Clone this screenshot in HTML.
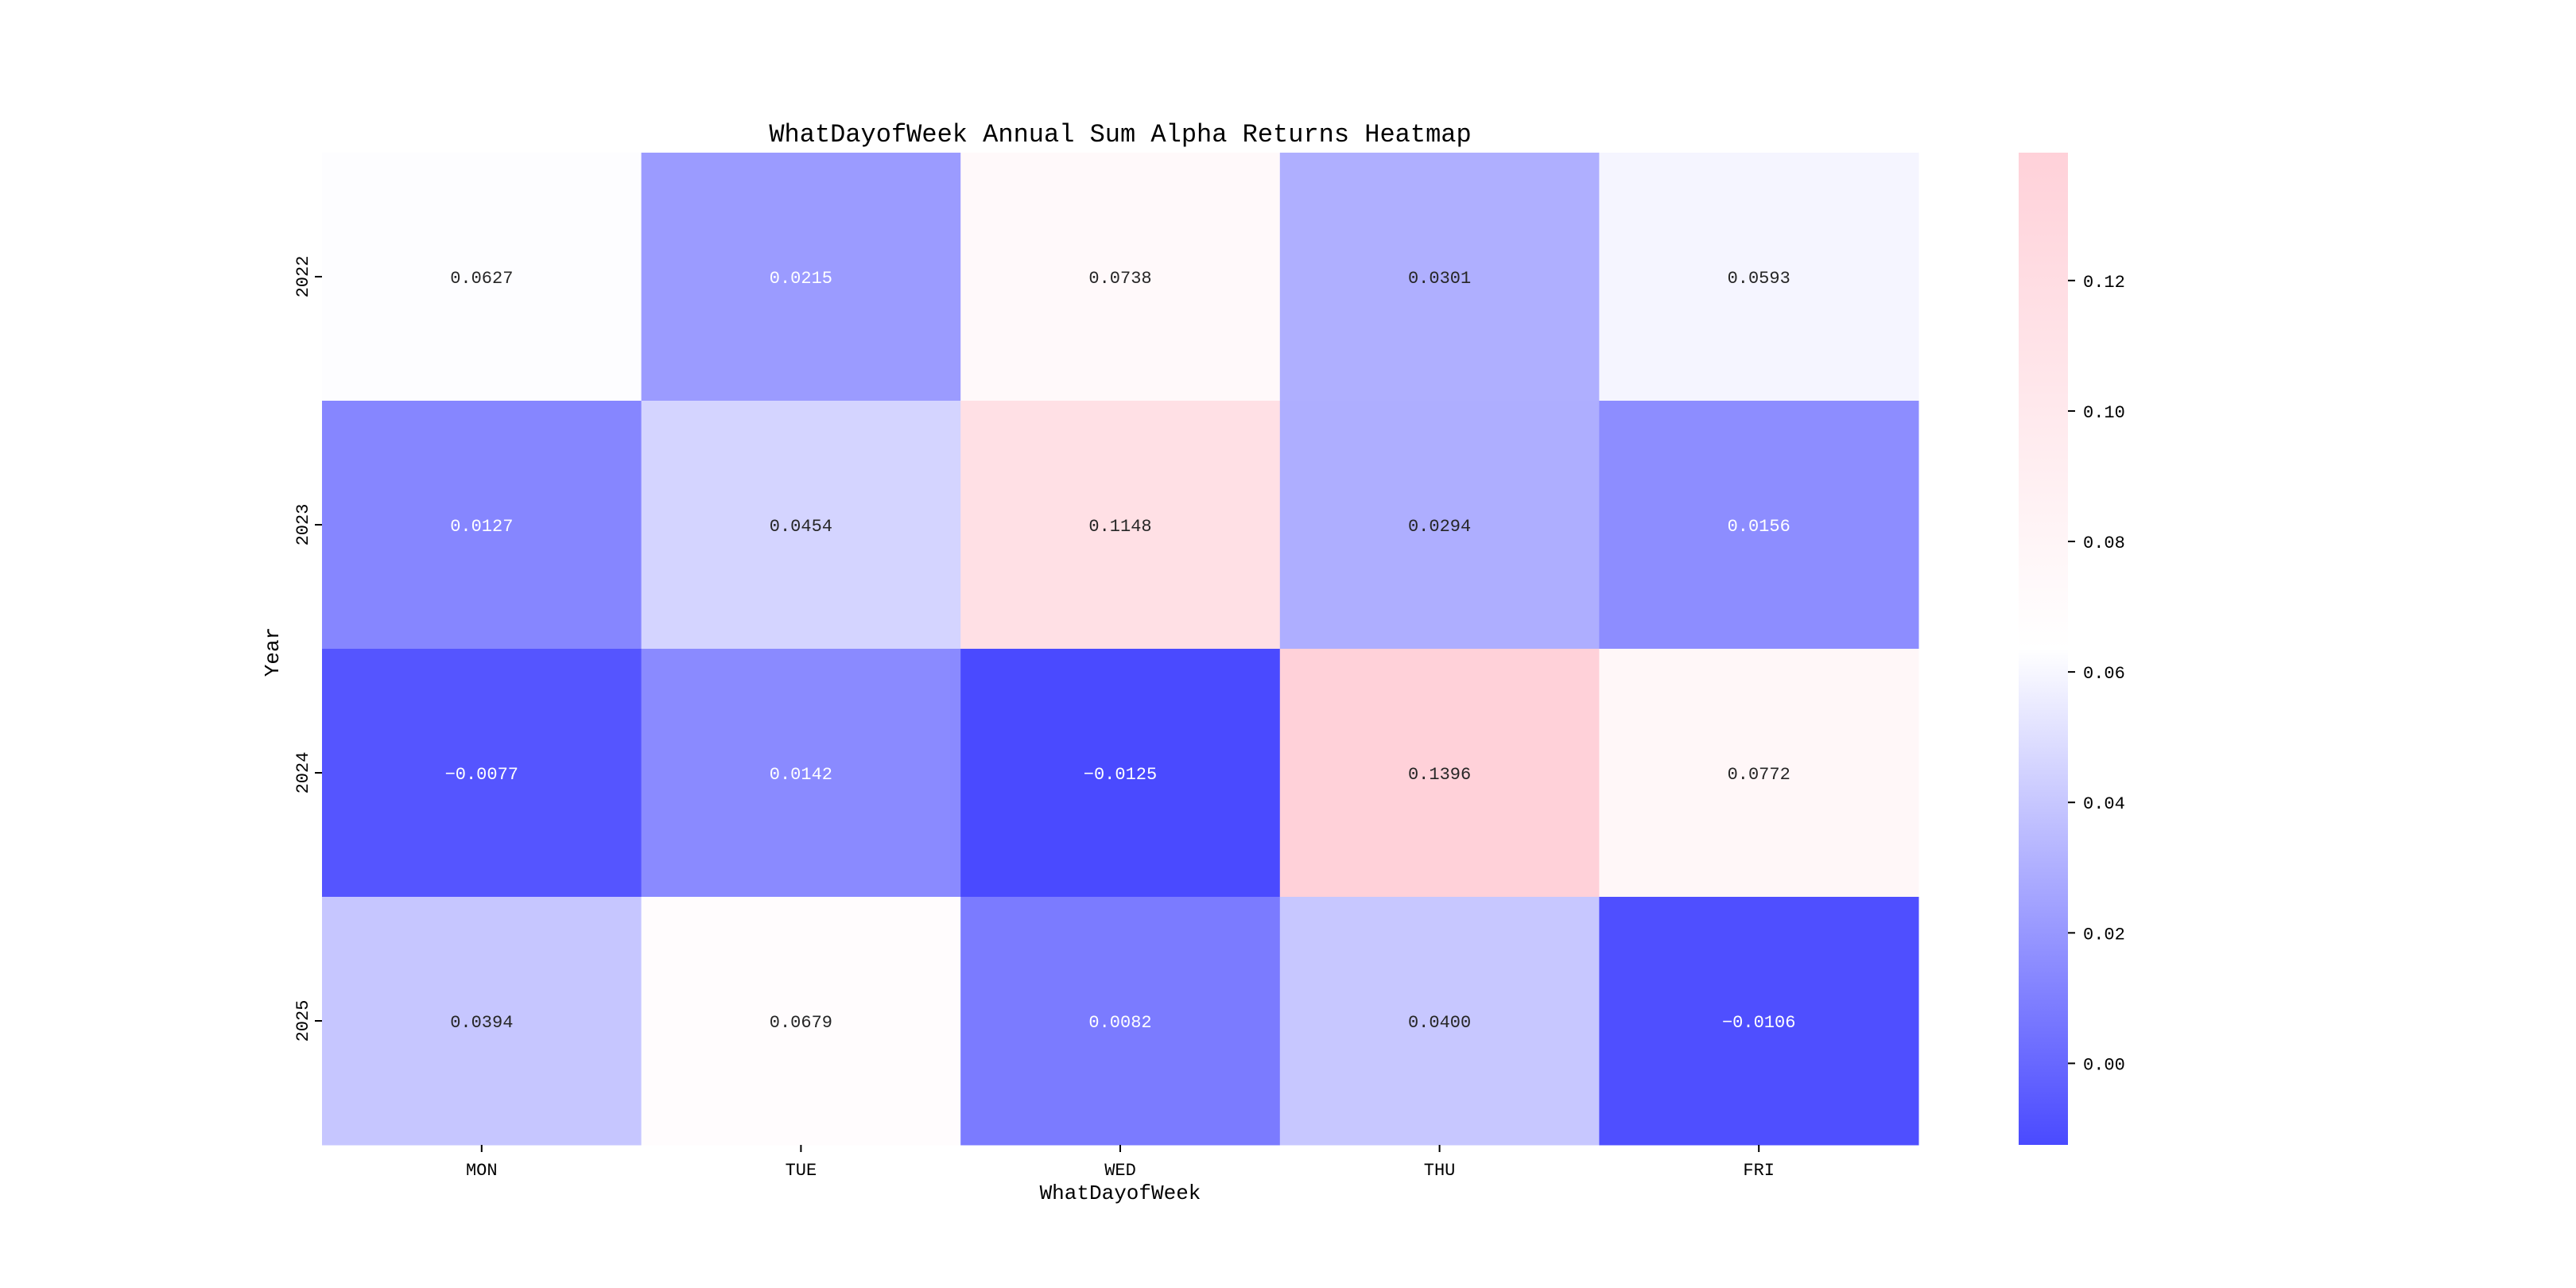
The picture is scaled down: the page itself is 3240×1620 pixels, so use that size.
<!DOCTYPE html>
<html><head><meta charset="utf-8"><style>
html,body{margin:0;padding:0;background:#fff;}
svg{display:block;font-family:"Liberation Mono","DejaVu Sans Mono",monospace;}
</style></head><body>
<svg id="chart" width="3240" height="1620" viewBox="0 0 3240 1620" xmlns="http://www.w3.org/2000/svg">
<defs>
<linearGradient id="cbgrad" x1="0" y1="1" x2="0" y2="0">
<stop offset="0" stop-color="#4a4aff"/>
<stop offset="0.5" stop-color="#ffffff"/>
<stop offset="1" stop-color="#ffd1d9"/>
</linearGradient>
</defs>
<text x="1409" y="178" font-size="32" text-anchor="middle" fill="#000">WhatDayofWeek Annual Sum Alpha Returns Heatmap</text>
<g id="cells"></g>
<g id="axes"></g>
<rect x="2539" y="192" width="62" height="1248" fill="url(#cbgrad)"/>
<g id="cbticks"></g>
<text transform="translate(350,820) rotate(-90)" font-size="26" text-anchor="middle">Year</text>
<text x="1409" y="1508" font-size="26" text-anchor="middle">WhatDayofWeek</text>
</svg>
<script>
const days = ["MON","TUE","WED","THU","FRI"];
const years = ["2022","2023","2024","2025"];
const row2022 = [0.0627,0.0215,0.0738,0.0301,0.0593];
const row2023 = [0.0127,0.0454,0.1148,0.0294,0.0156];
const row2024 = [-0.0077,0.0142,-0.0125,0.1396,0.0772];
const row2025 = [0.0394,0.0679,0.0082,0.0400,-0.0106];
const cbTicks = [0.00,0.02,0.04,0.06,0.08,0.10,0.12];

const rows = [row2022,row2023,row2024,row2025];
const all = rows.flat();
const vmin = Math.min(...all), vmax = Math.max(...all);
const X0=405, X1=2413, Y0=192, Y1=1440;
const cw=(X1-X0)/days.length, ch=(Y1-Y0)/years.length;
const NS="http://www.w3.org/2000/svg";
function xCol(i){return X0+i*cw;}
function yRow(j){return Y0+j*ch;}
function cbY(v){return Y1-(v-vmin)/(vmax-vmin)*(Y1-Y0);}
const cLow=[74,74,255], cMid=[255,255,255], cHigh=[255,209,217];
function color(v){
  let t=(v-vmin)/(vmax-vmin), a,b,u;
  if(t<0.5){a=cLow;b=cMid;u=t/0.5;}else{a=cMid;b=cHigh;u=(t-0.5)/0.5;}
  return [0,1,2].map(k=>Math.round(a[k]+(b[k]-a[k])*u));
}
function lum(c){const l=c.map(x=>{x/=255;return x<=0.03928?x/12.92:Math.pow((x+0.055)/1.055,2.4);});return 0.2126*l[0]+0.7152*l[1]+0.0722*l[2];}
const cells=document.getElementById('cells');
rows.forEach((r,j)=>r.forEach((v,i)=>{
  const c=color(v);
  const rect=document.createElementNS(NS,'rect');
  rect.setAttribute('x',xCol(i));rect.setAttribute('y',yRow(j));
  rect.setAttribute('width',cw+0.5);rect.setAttribute('height',ch+0.5);
  rect.setAttribute('fill',`rgb(${c})`);
  
  
  cells.appendChild(rect);
  const t=document.createElementNS(NS,'text');
  t.setAttribute('x',xCol(i)+cw/2);t.setAttribute('y',yRow(j)+ch/2+8);
  t.setAttribute('text-anchor','middle');t.setAttribute('font-size','22');
  t.setAttribute('fill',lum(c)>0.408?'#262626':'#ffffff');
  t.textContent=(v<0?'\u2212':'')+Math.abs(v).toFixed(4);
  
  
  cells.appendChild(t);
}));
const axes=document.getElementById('axes');
days.forEach((d,i)=>{
  const x=xCol(i)+cw/2;
  const l=document.createElementNS(NS,'line');
  l.setAttribute('x1',x);l.setAttribute('x2',x);l.setAttribute('y1',Y1);l.setAttribute('y2',Y1+9);
  l.setAttribute('stroke','#000');l.setAttribute('stroke-width','2');
  
  
  axes.appendChild(l);
  const t=document.createElementNS(NS,'text');
  t.setAttribute('x',x);t.setAttribute('y',Y1+38);t.setAttribute('text-anchor','middle');t.setAttribute('font-size','22');
  t.textContent=d;
  
  
  axes.appendChild(t);
});
years.forEach((yv,j)=>{
  const y=yRow(j)+ch/2;
  const l=document.createElementNS(NS,'line');
  l.setAttribute('x1',X0-9);l.setAttribute('x2',X0);l.setAttribute('y1',y);l.setAttribute('y2',y);
  l.setAttribute('stroke','#000');l.setAttribute('stroke-width','2');
  
  
  axes.appendChild(l);
  const t=document.createElementNS(NS,'text');
  t.setAttribute('transform',`translate(${X0-18},${y}) rotate(-90)`);
  t.setAttribute('text-anchor','middle');t.setAttribute('font-size','22');
  t.textContent=yv;
  
  
  axes.appendChild(t);
});
const cbt=document.getElementById('cbticks');
cbTicks.forEach(v=>{
  const y=cbY(v);
  const l=document.createElementNS(NS,'line');
  l.setAttribute('x1',2601);l.setAttribute('x2',2610);l.setAttribute('y1',y);l.setAttribute('y2',y);
  l.setAttribute('stroke','#000');l.setAttribute('stroke-width','2');
  
  
  cbt.appendChild(l);
  const t=document.createElementNS(NS,'text');
  t.setAttribute('x',2620);t.setAttribute('y',y+8);t.setAttribute('font-size','22');
  t.textContent=v.toFixed(2);
  
  
  cbt.appendChild(t);
});
</script>
</body></html>
